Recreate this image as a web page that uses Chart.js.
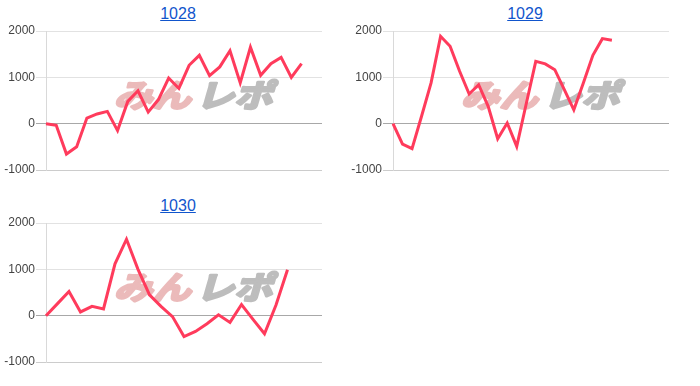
<!DOCTYPE html>
<html>
<head>
<meta charset="utf-8">
<script src="https://cdn.jsdelivr.net/npm/chart.js@4/dist/chart.umd.min.js"></script>
<style>
  body { margin: 0; background: #fff; width: 700px; height: 386px; position: relative; overflow: hidden; font-family: Arial, "Liberation Sans", sans-serif; }
  .box { position: absolute; width: 335px; height: 160px; }
  .ttl { position: absolute; width: 100px; text-align: center; font-size: 16px; line-height: 18px; }
  .ttl a { color: #1155cc; text-decoration: underline; }
</style>
</head>
<body>
<div class="ttl" style="left:128px;top:5px"><a href="#">1028</a></div>
<div class="ttl" style="left:475px;top:5px"><a href="#">1029</a></div>
<div class="ttl" style="left:128px;top:197px"><a href="#">1030</a></div>
<div class="box" style="left:0;top:20px"><canvas id="c1028"></canvas></div>
<div class="box" style="left:347px;top:20px"><canvas id="c1029"></canvas></div>
<div class="box" style="left:0;top:212px"><canvas id="c1030"></canvas></div>
<script>
// 差枚 per machine
const days1028 = ['1','2','3','4','5','6','7','8','9','10','11','12','13','14','15','16','17','18','19','20','21','22','23','24','25','26','27','28'];
const diff1028 = [0, -35, -655, -500, 120, 210, 265, -150, 480, 710, 250, 520, 985, 760, 1260, 1475, 1035, 1225, 1575, 880, 1650, 1045, 1295, 1430, 1000, 1295];

const days1029 = ['1','2','3','4','5','6','7','8','9','10','11','12','13','14','15','16','17','18','19','20','21','22','23','24','25','26','27','28','29','30'];
const diff1029 = [0, -440, -540, 160, 880, 1885, 1670, 1130, 640, 840, 375, -325, 15, -490, 430, 1345, 1290, 1165, 735, 300, 880, 1475, 1835, 1800];

const days1030 = ['1','2','3','4','5','6','7','8','9','10','11','12','13','14','15','16','17','18','19','20','21','22','23','24','25'];
const diff1030 = [0, 260, 520, 80, 200, 145, 1120, 1650, 1000, 450, 200, -20, -450, -340, -175, 20, -145, 240, -80, -390, 230, 990];

const yTicks = [-1000, 0, 1000, 2000];

const watermark = {
  id: 'watermark',
  beforeDatasetsDraw(chart) {
    const a = chart.chartArea;
    const ctx = chart.ctx;
    ctx.save();
    ctx.translate(a.left + 68, a.top + 76);
    ctx.transform(1.28, 0, -0.3, 1.05, 0, 0);
    ctx.font = 'bold 30px "Noto Sans CJK JP"';
    ctx.textBaseline = 'alphabetic';
    ctx.lineJoin = 'round';
    ctx.lineWidth = 2.5;
    ctx.fillStyle = ctx.strokeStyle = '#ebbaba';
    ctx.fillText('みん', 0, 0);
    ctx.strokeText('みん', 0, 0);
    const w = ctx.measureText('みん').width;
    ctx.fillStyle = ctx.strokeStyle = '#bdbdbd';
    ctx.fillText('レポ', w + 4, 0);
    ctx.strokeText('レポ', w + 4, 0);
    ctx.restore();
  }
};

function makeChart(id, labels, values) {
  new Chart(document.getElementById(id), {
    type: 'line',
    data: {
      labels: labels,
      datasets: [{
        data: values,
        borderColor: '#ff3b5c',
        borderWidth: 3,
        pointRadius: 0,
        tension: 0,
        fill: false
      }]
    },
    options: {
      responsive: true,
      maintainAspectRatio: false,
      animation: false,
      layout: { padding: { top: 11, right: 13, bottom: 10, left: 0 } },
      plugins: { legend: { display: false }, tooltip: { enabled: false } },
      scales: {
        x: { display: false, offset: false },
        y: {
          min: -1000,
          max: 2000,
          afterBuildTicks: (s) => { s.ticks = yTicks.map(v => ({ value: v })); },
          afterFit: (s) => { s.width = 46; },
          border: { display: true, color: '#d9d9d9', width: 1 },
          grid: {
            color: (c) => c.tick && c.tick.value === 0 ? '#a8a8a8' : (c.tick && c.tick.value === -1000 ? '#cccccc' : '#e2e2e2'),
            tickLength: 10,
            lineWidth: 1
          },
          ticks: {
            color: '#444',
            padding: 1,
            font: { family: 'Arial, "Liberation Sans", sans-serif', size: 12 },
            callback: (v) => String(v)
          }
        }
      }
    },
    plugins: [watermark]
  });
}

makeChart('c1028', days1028, diff1028);
makeChart('c1029', days1029, diff1029);
makeChart('c1030', days1030, diff1030);
</script>
</body>
</html>
